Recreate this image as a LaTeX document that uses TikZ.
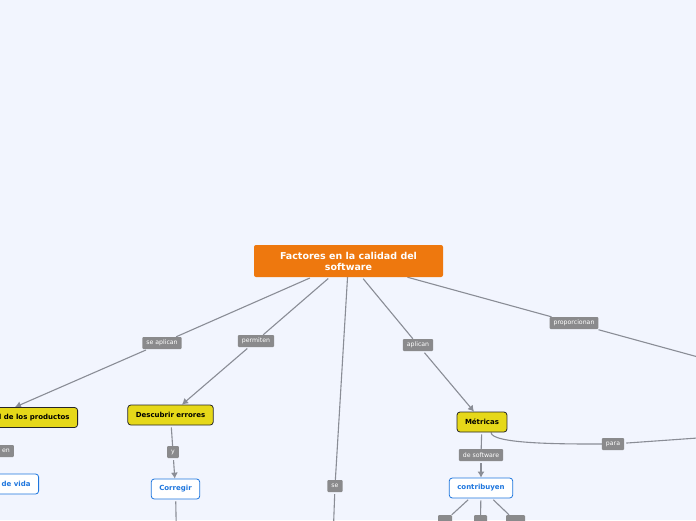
\documentclass[tikz,border=0pt]{standalone}
\usepackage{fontspec}
\setmainfont{DejaVu Sans}
\usetikzlibrary{
    arrows.meta,
    positioning,
    backgrounds
}
\definecolor{canvas}{RGB}{242,245,254}
\definecolor{mainorange}{RGB}{238,120,14}
\definecolor{topicyellow}{RGB}{230,216,25}
\definecolor{subblue}{RGB}{30,118,222}
\definecolor{tagfill}{RGB}{138,138,140}
\definecolor{wire}{RGB}{138,141,150}

\begin{document}
\begin{tikzpicture}[
        x=1pt, y=-1pt,
        every node/.style={font=\fontsize{7}{8.5}\selectfont\bfseries},
        title/.style={
            rectangle,
            rounded corners=2pt,
            fill=mainorange,
            text=white,
            font=\fontsize{9.5}{11}\selectfont\bfseries,
            minimum width=189pt,
            minimum height=32pt,
            text width=160pt,
            align=flush center,
            inner sep=2pt
        },
        topic/.style={
            rectangle,
            rounded corners=3pt,
            draw=black!85,
            line width=0.8pt,
            fill=topicyellow,
            minimum height=20pt,
            inner xsep=8pt,
            inner ysep=2pt
        },
        sub/.style={
            rectangle,
            rounded corners=3pt,
            draw=subblue,
            line width=0.8pt,
            fill=white,
            text=subblue,
            minimum height=20pt,
            inner xsep=8pt,
            inner ysep=2pt
        },
        tag/.style={
            rectangle,
            rounded corners=1pt,
            fill=tagfill,
            text=white,
            font=\fontsize{6.2}{7}\selectfont,
            minimum height=12pt,
            inner xsep=4pt,
            inner ysep=1pt
        },
        link/.style={line width=1.1pt,draw=wire,shorten <=2pt},
        flow/.style={link,-{Latex[length=6pt,width=7pt]}}
    ]
        \useasboundingbox (0,0) rectangle (696,520);
        \begin{scope}[on background layer]
            \fill[canvas] (0,0) rectangle (696,520);
        \end{scope}

        % central topic
        \node[title] (title) at (348.5,261) {Factores en la calidad del software};

        % left branch
        \node[tag] (seaplican) at (162,343) {se aplican};
        \node[topic, anchor=east] (prod) at (78,417.5) {Calidad de los productos};
        \node[tag, anchor=east] (en) at (14,451) {en};
        \node[sub, anchor=east] (ciclo) at (39,484) {Ciclo de vida};

        \node[tag] (permiten) at (256,341) {permiten};
        \node[topic] (desc) at (170.5,415) {Descubrir errores};
        \node[tag] (yy) at (173,452) {y};
        \node[sub] (corr) at (175.5,489) {Corregir};

        \node[tag] (se) at (335,486) {se};

        % right branch
        \node[tag] (aplican) at (418,345) {aplican};
        \node[topic] (met) at (482,422) {Métricas};
        \node[tag] (desoft) at (481,455) {de software};
        \node[sub] (contrib) at (481,488) {contribuyen};
        \node[tag, minimum width=14pt] (ca) at (445,521) {};
        \node[tag, minimum width=13pt] (cb) at (480.5,521) {};
        \node[tag, minimum width=19pt] (cc) at (515.5,521) {};

        \node[tag] (prop) at (574,323) {proporcionan};
        \node[tag] (para) at (613,444) {para};

        % free ends leaving the page
        \coordinate (seend) at (333,540);
        \coordinate (corrend) at (176.5,540);
        \coordinate (propend) at (740,368.5);
        \coordinate (paraend) at (740,435);

        \begin{scope}[on background layer]
            \draw[link] (title) -- (seaplican);
            \draw[flow] (seaplican) -- ([xshift=-63pt]prod.north east);
            \draw[link] (title) -- (permiten);
            \draw[flow] (permiten) -- ([xshift=11.5pt]desc.north);
            \draw[link] (title) -- (se) -- (seend);
            \draw[link] (title) -- (aplican);
            \draw[flow] (aplican) -- ([xshift=-8pt]met.north);
            \draw[link] (title) -- (prop) -- (propend);

            \draw[link] (desc) -- (yy);
            \draw[flow] (yy) -- (corr);
            \draw[link] (corr) -- (corrend);

            \draw[link] (met) -- (desoft);
            \draw[flow] (desoft) -- (contrib);
            \draw[link] ([xshift=9pt]met.south) .. controls +(0,12) and +(-45,0) .. (para) -- (paraend);
            \draw[link] (contrib) -- (ca);
            \draw[link] (contrib) -- (cb);
            \draw[link] (contrib) -- (cc);
        \end{scope}
    \end{tikzpicture}
\end{document}
